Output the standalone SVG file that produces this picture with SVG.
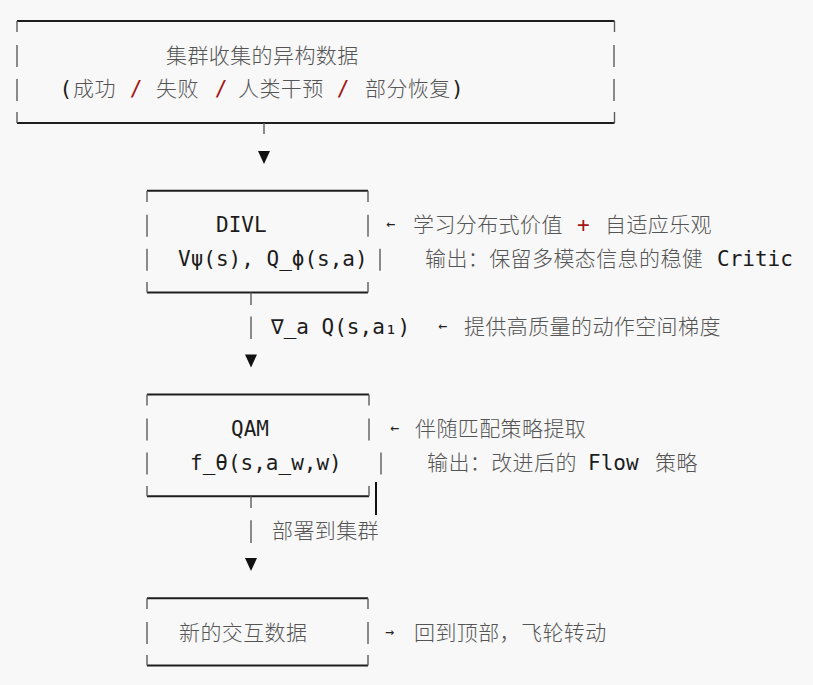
<svg xmlns="http://www.w3.org/2000/svg" width="813" height="685" viewBox="0 0 813 685">
<style>
.lat{font-family:"DejaVu Sans Mono","Noto Sans CJK SC",monospace;font-size:21px;fill:#1c1c1c}
.cjk{font-family:"Noto Sans CJK SC","Noto Sans CJK JP",sans-serif;font-size:21px;font-weight:300;fill:#555;letter-spacing:0.4px}
.red{font-family:"DejaVu Sans Mono",monospace;font-size:21px;fill:#a31515}
.arr{font-family:"DejaVu Sans Mono",monospace;font-size:15px;fill:#222}
.h{stroke:#1e1e1e;stroke-width:2;fill:none}
.v{stroke:#5c5c5c;stroke-width:1.4;fill:none}
.tri{fill:#111}
</style>
<rect width="813" height="685" fill="#f8f8f8"/>

<g id="node-cluster-data">
<path class="h" d="M17 21H614.5M17 122.9H614.5"/>
<path class="v" d="M17 21V32M614.5 21V32M17 45V67M614 45V67M17 79V101M614 79V101M17 112V122.9M614.5 112V122.9"/>
<text class="cjk" x="166" y="62.5">集群收集的异构数据</text>
<text y="96.4"><tspan class="lat" x="59.5">(</tspan><tspan class="cjk" x="73">成功</tspan><tspan class="red" x="129.7">/</tspan><tspan class="cjk" x="156">失败</tspan><tspan class="red" x="214.7">/</tspan><tspan class="cjk" x="238">人类干预</tspan><tspan class="red" x="336.7">/</tspan><tspan class="cjk" x="365">部分恢复</tspan><tspan class="lat" x="451">)</tspan></text>
</g>

<g id="node-divl">
<path class="h" d="M147 190.8H368M147 292.6H368"/>
<path class="v" d="M147 190.8V202M368 190.8V202M147 214.7V236.7M368 214.7V236.7M147 248.7V270.7M380 248.7V270.7M147 282V292.6M368 282V292.6"/>
<text class="lat" x="216" y="232.2">DIVL</text>
<text class="lat" x="178" y="266.2">Vψ(s), Q_ϕ(s,a)</text>
<text y="232.2"><tspan class="arr" x="386" y="229.2">←</tspan><tspan class="cjk" x="413" y="232.2">学习分布式价值</tspan><tspan class="red" x="577">+</tspan><tspan class="cjk" x="605">自适应乐观</tspan></text>
<text y="266.2"><tspan class="cjk" x="425">输出：保留多模态信息的稳健</tspan><tspan class="lat" x="717">Critic</tspan></text>
</g>

<g id="node-qam">
<path class="h" d="M147 394.5H369M147 496.3H369"/>
<path class="v" d="M147 394.5V405.5M369 394.5V405.5M147 418.4V440.4M369 418.4V440.4M147 452.4V474.4M381 452.4V474.4M147 486V496.3M369 486V496.3"/>
<path d="M376 482V515" stroke="#111" stroke-width="2"/>
<text class="lat" x="231" y="435.9">QAM</text>
<text class="lat" x="190" y="469.9">f_θ(s,a_w,w)</text>
<text y="435.9"><tspan class="arr" x="390" y="432.9">←</tspan><tspan class="cjk" x="415" y="435.9">伴随匹配策略提取</tspan></text>
<text y="469.9"><tspan class="cjk" x="427">输出：改进后的</tspan><tspan class="lat" x="588">Flow</tspan><tspan class="cjk" x="655">策略</tspan></text>
</g>

<g id="node-new-data">
<path class="h" d="M147 598.2H368M147 665.5H368"/>
<path class="v" d="M147 598.2V609M368 598.2V609M147 622V644M368 622V644M147 655V665.5M368 655V665.5"/>
<text class="cjk" x="179" y="639.6">新的交互数据</text>
<text y="639.6"><tspan class="arr" x="385" y="636.6">→</tspan><tspan class="cjk" x="414" y="639.6">回到顶部，飞轮转动</tspan></text>
</g>

<g id="connectors">
<path class="v" d="M264 122.9V134"/>
<polygon class="tri" points="258,151 270,151 264,164"/>
<path class="v" d="M251 292.6V305M251 316.6V339"/>
<text class="lat" x="271" y="334.1">∇_a Q(s,a₁)</text>
<text y="334.1"><tspan class="arr" x="438" y="331.1">←</tspan><tspan class="cjk" x="464" y="334.1">提供高质量的动作空间梯度</tspan></text>
<polygon class="tri" points="245,354.5 257,354.5 251,367.5"/>
<path class="v" d="M251 496.3V508M251 520.3V543"/>
<text class="cjk" x="272" y="537.8">部署到集群</text>
<polygon class="tri" points="245,558 257,558 251,571"/>
</g>
</svg>
